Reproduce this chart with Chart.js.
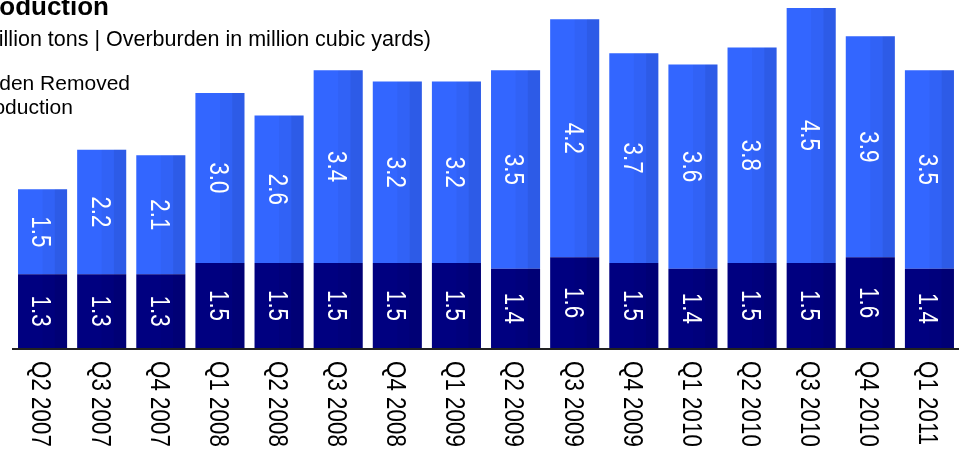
<!DOCTYPE html>
<html>
<head>
<meta charset="utf-8">
<title>Coal Production</title>
<script src="https://cdn.jsdelivr.net/npm/chart.js@4.4.1/dist/chart.umd.min.js"></script>
<style>
  html, body { margin: 0; padding: 0; background: #fff; overflow: hidden; }
  #chart { display: block; }
</style>
</head>
<body>
<canvas id="chart" width="959" height="449"></canvas>
<script>
const quarters = ['Q2 2007', 'Q3 2007', 'Q4 2007', 'Q1 2008', 'Q2 2008', 'Q3 2008', 'Q4 2008', 'Q1 2009',
                  'Q2 2009', 'Q3 2009', 'Q4 2009', 'Q1 2010', 'Q2 2010', 'Q3 2010', 'Q4 2010', 'Q1 2011'];
// coal in million tons
const coalProduction = [1.3, 1.3, 1.3, 1.5, 1.5, 1.5, 1.5, 1.5, 1.4, 1.6, 1.5, 1.4, 1.5, 1.5, 1.6, 1.4];
// overburden in million cubic yards
const overburdenRemoved = [1.5, 2.2, 2.1, 3.0, 2.6, 3.4, 3.2, 3.2, 3.5, 4.2, 3.7, 3.6, 3.8, 4.5, 3.9, 3.5];

const FONT = '"Liberation Sans", Arial, Helvetica, sans-serif';
const NAVY = '#000080';
const BLUE = '#3366FF';

// text rotated a quarter turn clockwise, squeezed a little along the reading direction
function drawTurned(ctx, text, x, y, size, align, color) {
  ctx.save();
  ctx.translate(x, y);
  ctx.rotate(Math.PI / 2);
  ctx.scale(0.8, 1);
  ctx.font = size + 'px ' + FONT;
  ctx.fillStyle = color;
  ctx.textAlign = align;
  ctx.textBaseline = 'alphabetic';
  ctx.fillText(text, 0, size * 0.36);
  ctx.restore();
}

const barDecor = {
  id: 'barDecor',
  afterDatasetsDraw(chart) {
    const ctx = chart.ctx;
    // darker vertical bands on the right side of every bar
    chart.data.datasets.forEach((ds, i) => {
      chart.getDatasetMeta(i).data.forEach(bar => {
        const left = bar.x - bar.width / 2;
        const top = Math.min(bar.y, bar.base);
        const h = Math.abs(bar.base - bar.y);
        ctx.fillStyle = 'rgba(0,0,20,0.04)';
        ctx.fillRect(left + bar.width * 0.5, top, bar.width * 0.25, h);
        ctx.fillStyle = 'rgba(0,0,20,0.10)';
        ctx.fillRect(left + bar.width * 0.75, top, bar.width * 0.25, h);
      });
    });
    // value labels in the middle of each segment
    chart.data.datasets.forEach((ds, i) => {
      chart.getDatasetMeta(i).data.forEach((bar, j) => {
        const label = ds.data[j].toFixed(1);
        drawTurned(ctx, label, bar.x, (bar.y + bar.base) / 2, 28, 'center', '#fff');
      });
    });
  },
  afterDraw(chart) {
    const ctx = chart.ctx;
    const area = chart.chartArea;
    const y0 = chart.scales.y.getPixelForValue(0);

    // baseline
    ctx.save();
    ctx.strokeStyle = '#222';
    ctx.lineWidth = 2;
    ctx.beginPath();
    ctx.moveTo(area.left - 1, y0 + 1);
    ctx.lineTo(area.right, y0 + 1);
    ctx.stroke();
    ctx.restore();

    // category labels under the bars
    const xs = chart.scales.x;
    quarters.forEach((q, i) => {
      drawTurned(ctx, q, xs.getPixelForValue(i), y0 + 13, 28, 'left', '#000');
    });

    // title, units and legend
    ctx.save();
    ctx.fillStyle = '#000';
    ctx.textBaseline = 'alphabetic';
    ctx.textAlign = 'right';
    ctx.font = 'bold 26px ' + FONT;
    ctx.fillText('Coal Production', 109, 15);
    ctx.font = '21.5px ' + FONT;
    ctx.fillText('(Coal in million tons | Overburden in million cubic yards)', 431, 46);

    ctx.textAlign = 'left';
    ctx.font = '21px ' + FONT;
    const legendX = 130 - ctx.measureText('Overburden Removed').width;
    ctx.fillStyle = BLUE;
    ctx.fillRect(legendX - 24, 75, 15, 15);
    ctx.fillStyle = NAVY;
    ctx.fillRect(legendX - 24, 99, 15, 15);
    ctx.fillStyle = '#000';
    ctx.fillText('Overburden Removed', legendX, 90);
    ctx.fillText('Coal Production', legendX, 114);
    ctx.restore();
  }
};

new Chart(document.getElementById('chart'), {
  type: 'bar',
  data: {
    labels: quarters,
    datasets: [
      {
        label: 'Coal Production',
        data: coalProduction,
        backgroundColor: NAVY,
        borderWidth: 0,
        categoryPercentage: 1,
        barPercentage: 0.83
      },
      {
        label: 'Overburden Removed',
        data: overburdenRemoved,
        backgroundColor: BLUE,
        borderWidth: 0,
        categoryPercentage: 1,
        barPercentage: 0.83
      }
    ]
  },
  options: {
    responsive: false,
    animation: false,
    layout: { padding: { left: 13, right: 0, top: 0, bottom: 101 } },
    plugins: {
      legend: { display: false },
      tooltip: { enabled: false },
      title: { display: false }
    },
    scales: {
      x: { display: false, stacked: true },
      y: { display: false, stacked: true, min: 0, max: 6.14 }
    }
  },
  plugins: [barDecor]
});
</script>
</body>
</html>
